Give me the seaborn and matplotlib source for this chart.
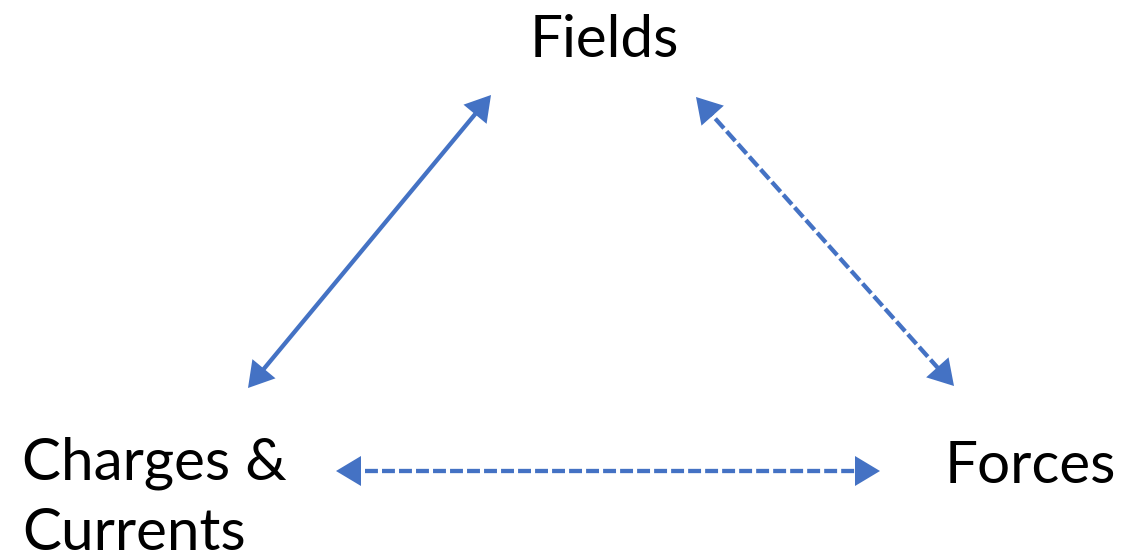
import matplotlib
matplotlib.use('Agg')
import matplotlib.pyplot as plt
import seaborn as sns
import numpy as np

# nodes of the diagram (label, anchor in pixel coords, baseline)
node_labels = ['Fields', 'Charges &\nCurrents', 'Forces']
node_x = [530, 22, 945]
node_y = [57, 480, 483]

# arrows: start/end tips in pixel coords and line style
edge_x0 = [248, 336, 696]
edge_y0 = [388, 471, 97]
edge_x1 = [491, 880, 954]
edge_y1 = [95, 471, 386]
edge_style = ['-', '--', '--']

sns.set_theme(style='white')
plt.rcParams['font.family'] = ['Lato', 'DejaVu Sans']
blue = '#4472C4'

fig = plt.figure(figsize=(11.24, 5.59), dpi=100)
ax = fig.add_axes([0, 0, 1, 1])
ax.set_xlim(0, 1124)
ax.set_ylim(559, 0)
ax.axis('off')

for x0, y0, x1, y1, ls in zip(edge_x0, edge_y0, edge_x1, edge_y1, edge_style):
    d = np.array([x1 - x0, y1 - y0], dtype=float)
    d /= np.hypot(*d)
    cut = 12
    ax.plot([x0 + d[0] * cut, x1 - d[0] * cut], [y0 + d[1] * cut, y1 - d[1] * cut],
            color=blue, lw=3.1, ls=ls, dashes=(3.0, 0.95) if ls == '--' else (None, None),
            solid_capstyle='butt', dash_capstyle='butt')
    ax.annotate('', xy=(x1, y1), xytext=(x0, y0),
                arrowprops=dict(arrowstyle='<|-|>,head_length=0.9,head_width=0.54',
                                mutation_scale=20, lw=0, color=blue,
                                shrinkA=0, shrinkB=0))

for lab, x, y in zip(node_labels, node_x, node_y):
    for i, line in enumerate(lab.split('\n')):
        ax.text(x, y + i * 70, line, ha='left', va='baseline', fontsize=42, color='black')

plt.savefig('out.png', dpi=100)
